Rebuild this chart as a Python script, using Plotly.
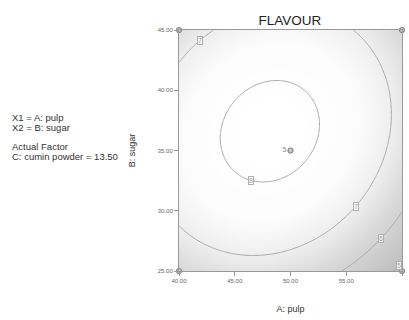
import numpy as np
import plotly.graph_objects as go

# Fitted response surface for FLAVOUR (cumin powder held at 13.50)
peak_pulp = 48.15
peak_sugar = 36.6
peak_flavour = 8.2
curv_pulp = 0.0103
curv_sugar = 0.0115
interaction = 0.003

# Design points shown on the plot
design_pulp = [40, 60, 40, 60, 50]
design_sugar = [45, 45, 25, 25, 35]
design_reps = ["", "", "", "", "5"]

contour_levels = [5, 6, 7, 8]
# contour label placement: (level, direction from the optimum in degrees)
label_spots = [(8, 247), (7, 321), (7, 130), (6, 318), (5, 316)]

pulp_ticks = [40, 45, 50, 55, 60]
sugar_ticks = [25, 30, 35, 40, 45]


def flavour(a, b):
    u = a - peak_pulp
    v = b - peak_sugar
    return peak_flavour - curv_pulp * u**2 - curv_sugar * v**2 + interaction * u * v


xs = np.linspace(40, 60, 201)
ys = np.linspace(25, 45, 201)
X, Y = np.meshgrid(xs, ys)
Z = flavour(X, Y)

zmin = float(Z.min())
shade = [[0.0, "rgb(186,186,186)"], [0.44, "rgb(216,216,216)"],
         [0.646, "rgb(238,238,238)"], [0.82, "rgb(252,252,252)"],
         [1.0, "rgb(255,255,255)"]]

fig = go.Figure()
fig.add_trace(go.Heatmap(x=xs, y=ys, z=Z, zsmooth="best", colorscale=shade,
                         zmin=zmin, zmax=peak_flavour, showscale=False,
                         hoverinfo="skip"))
fig.add_trace(go.Contour(
    x=xs, y=ys, z=Z,
    contours=dict(start=min(contour_levels), end=max(contour_levels), size=1,
                  coloring="none", showlabels=False),
    line=dict(color="#a8a8a8", width=1), showscale=False, hoverinfo="skip"))
fig.add_trace(go.Scatter(
    x=design_pulp, y=design_sugar, mode="markers+text", text=design_reps,
    textposition="middle left", textfont=dict(size=7, color="#888"),
    marker=dict(symbol="circle", size=5, color="rgb(200,200,200)",
                line=dict(color="#888", width=1.2)),
    cliponaxis=False, hoverinfo="skip"))

# boxed contour labels, placed where each level crosses the chosen direction
for level, ang in label_spots:
    t = np.radians(ang)
    c, s = np.cos(t), np.sin(t)
    k = peak_flavour - level
    r = np.sqrt(k / (curv_pulp * c * c + curv_sugar * s * s - interaction * c * s))
    fig.add_annotation(x=peak_pulp + r * c, y=peak_sugar + r * s, text=str(level),
                       showarrow=False, font=dict(size=7, color="#999"),
                       bgcolor="rgba(255,255,255,0.9)", bordercolor="#b0b0b0",
                       borderwidth=1, borderpad=0)

axis_common = dict(showgrid=False, zeroline=False, showline=True, linecolor="#999",
                   linewidth=1, mirror=True, ticks="outside", ticklen=4,
                   tickcolor="#999", tickformat=".2f",
                   tickfont=dict(size=6, color="#666", family="Liberation Sans"))
fig.update_xaxes(range=[40, 60], tickvals=pulp_ticks,
                 title=dict(text="A: pulp", font=dict(size=9, color="#333"), standoff=22),
                 **axis_common)
fig.update_yaxes(range=[25, 45], tickvals=sugar_ticks,
                 title=dict(text="B: sugar", font=dict(size=9, color="#333"), standoff=20),
                 **axis_common)

notes = [("X1 = A: pulp", 117), ("X2 = B: sugar", 127),
         ("Actual Factor", 146), ("C: cumin powder = 13.50", 156)]
for txt, py in notes:
    fig.add_annotation(text=txt, xref="paper", yref="paper", x=(10 - 179) / 223,
                       y=(271 - py) / 241, xanchor="left", yanchor="middle",
                       showarrow=False, font=dict(size=9.5, color="#333"))

fig.update_layout(
    width=409, height=320, margin=dict(l=179, r=7, t=30, b=49),
    paper_bgcolor="white", plot_bgcolor="white", showlegend=False,
    font=dict(family="Liberation Sans"),
    title=dict(text="FLAVOUR", x=290 / 409, xanchor="center", y=1 - 20 / 320,
               yanchor="middle", font=dict(size=13.5, color="#222")))
fig.write_html("out.html")
